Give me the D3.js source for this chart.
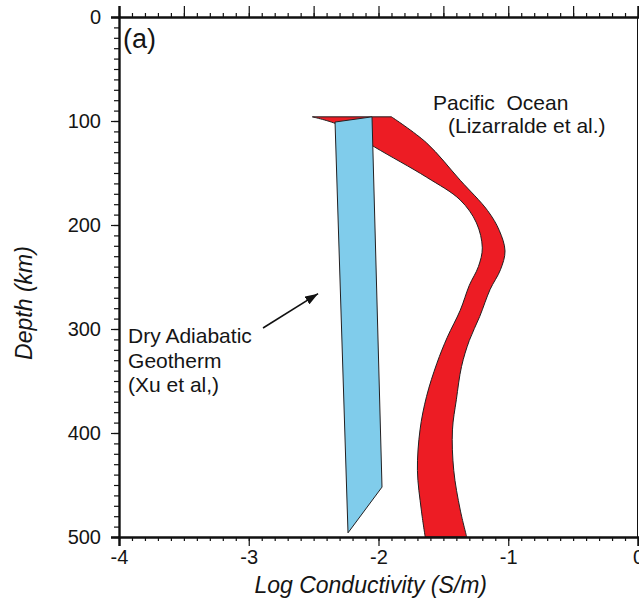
<!DOCTYPE html>
<html>
<head>
<meta charset="utf-8">
<script src="https://cdn.jsdelivr.net/npm/d3@7"></script>
<style>
  body { margin: 0; background: #fff; }
  svg { display: block; font-family: "Liberation Sans", Arial, Helvetica, sans-serif; }
  .tick text { fill: #151515; }
</style>
</head>
<body>
<svg id="chart" width="639" height="605"></svg>
<script>
// depth (km) / log conductivity (S/m)
const pacificOuter = [
  [96, -1.90], [121, -1.63], [157, -1.37], [186, -1.16], [205, -1.07],
  [225, -1.025], [243, -1.06], [262, -1.14], [288, -1.22], [311, -1.30],
  [336, -1.36], [368, -1.40], [397, -1.43], [436, -1.42], [474, -1.37], [500, -1.32]
]
const pacificInner = [
  [96, -2.51], [104, -2.30], [125, -2.03], [154, -1.63], [176, -1.37],
  [198, -1.245], [222, -1.20], [240, -1.23], [258, -1.30], [282, -1.37],
  [308, -1.47], [333, -1.55], [365, -1.63], [397, -1.68], [436, -1.70],
  [474, -1.67], [500, -1.64]
]
const dryAdiabat = [[101, -2.335], [96, -2.05], [452, -1.973], [496, -2.235]]
const arrowPts = [[299, -2.89], [266, -2.466]]

const xTicksMajor = [-4, -3, -2, -1, 0]
const yTicksMajor = [0, 100, 200, 300, 400, 500]

const labelPacific = ['Pacific  Ocean', '(Lizarralde et al.)']
const labelDry = ['Dry Adiabatic', 'Geotherm', '(Xu et al,)']

const margin = { top: 17, left: 119 }
const xdim = 519, ydim = 520

const svg = d3.select('#chart')

const x = d3.scaleLinear().domain([-4, 0]).range([margin.left, margin.left + xdim])
const y = d3.scaleLinear().domain([0, 500]).range([margin.top, margin.top + ydim])

const edge = d3.line()
  .x(d => x(d[1]))
  .y(d => y(d[0]))
  .curve(d3.curveCatmullRom.alpha(0.5))

// band: outer edge down, inner edge back up
const outerPath = edge(pacificOuter)
const innerPath = edge(pacificInner.slice().reverse()).replace(/^M/, 'L')

svg.append('path')
  .attr('d', outerPath + innerPath + 'Z')
  .attr('fill', '#ed1c24')
  .attr('stroke', '#231f20')
  .attr('stroke-width', 1)

svg.append('path')
  .attr('d', d3.line().x(d => x(d[1])).y(d => y(d[0]))(dryAdiabat) + 'Z')
  .attr('fill', '#80cceb')
  .attr('stroke', '#231f20')
  .attr('stroke-width', 1)

// axes
const fmt = d => String(d)

const minorX = d3.range(-40, 1).map(d => d / 10)
const halfX = d3.range(-8, 1).map(d => d / 2)
const minorY = d3.range(0, 501, 10)

const styleAxis = (g, w) => {
  g.selectAll('.tick line').attr('stroke', '#111').attr('stroke-width', 1.2)
  g.select('.domain').attr('stroke', '#111').attr('stroke-width', w)
}

// left
svg.append('g')
  .attr('transform', `translate(${margin.left},0)`)
  .call(d3.axisLeft(y).tickValues(minorY).tickSize(5).tickFormat(''))
  .call(g => { styleAxis(g, 0); g.select('.domain').remove() })

svg.append('g')
  .attr('transform', `translate(${margin.left},0)`)
  .call(d3.axisLeft(y).tickValues(yTicksMajor).tickSize(8).tickPadding(10).tickFormat(fmt))
  .call(g => styleAxis(g, 2.4))
  .call(g => g.selectAll('text').attr('font-size', 20))

// bottom
svg.append('g')
  .attr('transform', `translate(0,${margin.top + ydim})`)
  .call(d3.axisBottom(x).tickValues(minorX).tickSize(4).tickFormat(''))
  .call(g => { styleAxis(g, 0); g.select('.domain').remove() })

svg.append('g')
  .attr('transform', `translate(0,${margin.top + ydim})`)
  .call(d3.axisBottom(x).tickValues(xTicksMajor).tickSize(9).tickPadding(4).tickFormat(fmt))
  .call(g => styleAxis(g, 2.4))
  .call(g => g.selectAll('text').attr('font-size', 20))

// top
svg.append('g')
  .attr('transform', `translate(0,${margin.top})`)
  .call(d3.axisTop(x).tickValues(minorX).tickSize(4).tickFormat(''))
  .call(g => { styleAxis(g, 0); g.select('.domain').remove() })

svg.append('g')
  .attr('transform', `translate(0,${margin.top})`)
  .call(d3.axisTop(x).tickValues(halfX).tickSize(11).tickFormat(''))
  .call(g => styleAxis(g, 2.4))

// right border
svg.append('line')
  .attr('x1', x(0) - 0.5).attr('x2', x(0) - 0.5)
  .attr('y1', y(0)).attr('y2', y(500))
  .attr('stroke', '#111').attr('stroke-width', 1)

// axis titles
svg.append('text')
  .attr('x', x(-2.06))
  .attr('y', 593)
  .attr('text-anchor', 'middle')
  .attr('font-size', 23)
  .attr('font-style', 'italic')
  .attr('fill', '#151515')
  .text('Log Conductivity  (S/m)')

svg.append('text')
  .attr('transform', `translate(32, ${y(275)}) rotate(-90)`)
  .attr('text-anchor', 'middle')
  .attr('font-size', 23)
  .attr('font-style', 'italic')
  .attr('fill', '#151515')
  .text('Depth (km)')

svg.append('text')
  .attr('x', margin.left + 4)
  .attr('y', 48)
  .attr('font-size', 27)
  .attr('fill', '#151515')
  .text('(a)')

// annotations
svg.append('g')
  .selectAll('text')
  .data(labelPacific)
  .join('text')
  .attr('x', (d, i) => x(i === 0 ? -1.58 : -1.464))
  .attr('y', (d, i) => y(89.4) + i * 23)
  .attr('font-size', 21)
  .attr('fill', '#151515')
  .attr('xml:space', 'preserve')
  .text(d => d)

svg.append('g')
  .selectAll('text')
  .data(labelDry)
  .join('text')
  .attr('x', x(-3.93))
  .attr('y', (d, i) => y(313.5) + i * 24.5)
  .attr('font-size', 21)
  .attr('fill', '#151515')
  .text(d => d)

svg.append('defs').append('marker')
  .attr('id', 'head')
  .attr('viewBox', '0 0 13 9')
  .attr('refX', 13).attr('refY', 4.5)
  .attr('markerWidth', 13).attr('markerHeight', 9)
  .attr('markerUnits', 'userSpaceOnUse')
  .attr('orient', 'auto')
  .append('path')
  .attr('d', 'M0,0 L13,4.5 L0,9 Z')
  .attr('fill', '#111')

svg.append('line')
  .attr('x1', x(arrowPts[0][1])).attr('y1', y(arrowPts[0][0]))
  .attr('x2', x(arrowPts[1][1])).attr('y2', y(arrowPts[1][0]))
  .attr('stroke', '#111')
  .attr('stroke-width', 1.6)
  .attr('marker-end', 'url(#head)')
</script>
</body>
</html>
